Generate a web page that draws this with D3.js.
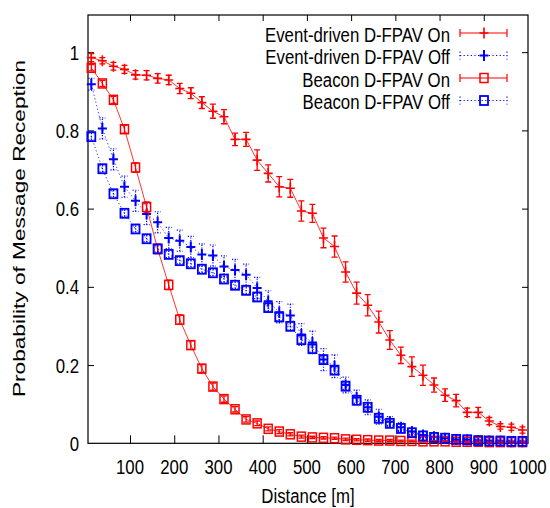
<!DOCTYPE html>
<html>
<head>
<meta charset="utf-8">
<script src="https://cdn.jsdelivr.net/npm/d3@7"></script>
<style>
html,body{margin:0;padding:0;background:#fff;}
svg{display:block;}
text{font-family:"Liberation Sans",Arial,Helvetica,sans-serif;fill:#000;}
</style>
</head>
<body>
<svg id="chart" width="550" height="508"></svg>
<script>
// ---- data ----
const distance = [12.5,37.5,62.5,87.5,112.5,137.5,162.5,187.5,212.5,237.5,262.5,287.5,312.5,337.5,362.5,387.5,412.5,437.5,462.5,487.5,512.5,537.5,562.5,587.5,612.5,637.5,662.5,687.5,712.5,737.5,762.5,787.5,812.5,837.5,862.5,887.5,912.5,937.5,962.5,987.5];

const eventOn = [0.986,0.978,0.964,0.956,0.942,0.941,0.933,0.929,0.907,0.895,0.871,0.849,0.835,0.777,0.777,0.724,0.690,0.656,0.652,0.594,0.588,0.525,0.503,0.438,0.384,0.353,0.310,0.264,0.225,0.196,0.174,0.149,0.123,0.109,0.079,0.079,0.057,0.043,0.041,0.034];
const eventOnErr = [0.010,0.008,0.010,0.010,0.011,0.012,0.012,0.012,0.013,0.014,0.015,0.018,0.018,0.016,0.018,0.026,0.022,0.026,0.023,0.026,0.023,0.025,0.027,0.026,0.028,0.027,0.028,0.024,0.021,0.025,0.026,0.018,0.016,0.016,0.011,0.013,0.009,0.007,0.008,0.008];

const eventOff = [0.918,0.805,0.726,0.656,0.620,0.586,0.565,0.525,0.518,0.502,0.483,0.480,0.452,0.443,0.431,0.397,0.363,0.335,0.327,0.278,0.258,0.214,0.197,0.149,0.117,0.092,0.068,0.055,0.041,0.030,0.021,0.017,0.013,0.010,0.009,0.007,0.006,0.005,0.004,0.004];
const eventOffErr = [0.015,0.027,0.027,0.027,0.027,0.027,0.027,0.027,0.027,0.027,0.027,0.027,0.027,0.027,0.027,0.027,0.027,0.027,0.029,0.028,0.029,0.028,0.029,0.020,0.019,0.019,0.019,0.013,0.011,0.009,0.008,0.007,0.006,0.005,0.004,0.004,0.003,0.003,0.003,0.003];

const beaconOn = [0.960,0.920,0.878,0.803,0.705,0.604,0.497,0.405,0.316,0.251,0.191,0.145,0.113,0.087,0.061,0.051,0.037,0.030,0.023,0.017,0.015,0.014,0.013,0.010,0.009,0.008,0.007,0.007,0.006,0.006,0.005,0.005,0.005,0.004,0.004,0.004,0.003,0.003,0.003,0.003];
const beaconOnErr = [0.008,0.008,0.009,0.010,0.012,0.013,0.012,0.012,0.012,0.011,0.010,0.009,0.008,0.007,0.007,0.006,0.005,0.005,0.004,0.004,0.003,0.003,0.003,0.003,0.003,0.003,0.003,0.003,0.002,0.002,0.002,0.002,0.002,0.002,0.002,0.002,0.002,0.002,0.002,0.002];

const beaconOff = [0.784,0.702,0.638,0.588,0.548,0.523,0.497,0.483,0.467,0.459,0.445,0.436,0.420,0.404,0.391,0.374,0.347,0.323,0.299,0.265,0.242,0.214,0.187,0.146,0.110,0.092,0.064,0.051,0.038,0.027,0.019,0.015,0.013,0.010,0.009,0.007,0.006,0.006,0.005,0.005];
const beaconOffErr = [0.008,0.008,0.008,0.008,0.008,0.008,0.008,0.008,0.008,0.008,0.008,0.008,0.008,0.008,0.009,0.009,0.009,0.009,0.009,0.009,0.009,0.009,0.009,0.008,0.008,0.007,0.006,0.005,0.005,0.004,0.004,0.003,0.003,0.003,0.003,0.003,0.003,0.003,0.003,0.003];

const seriesNames = ["Event-driven D-FPAV On","Event-driven D-FPAV Off","Beacon D-FPAV On","Beacon D-FPAV Off"];
const xTicks = [100,200,300,400,500,600,700,800,900,1000];
const yTicks = [0,0.2,0.4,0.6,0.8,1];
const yTickLabels = ["0","0.2","0.4","0.6","0.8","1"];

// ---- layout ----
const L = 88, R = 528, T = 15, B = 443.3;
const VS = 1.25; // vertical stretch of text
const FS = 16.8;
const svg = d3.select("#chart");
const x = d3.scaleLinear().domain([5,1000]).range([L,R]);
const y = d3.scaleLinear().domain([0,1.095]).range([B,T]);

function htext(tx, ty, str, anchor){
  svg.append("text")
    .attr("transform", `translate(${tx},${ty}) scale(1,${VS})`)
    .attr("text-anchor", anchor)
    .attr("font-size", FS)
    .text(str);
}

// ticks (inward, mirrored) using d3 axes
const gB = svg.append("g").attr("transform",`translate(0,${B})`)
  .call(d3.axisBottom(x).tickValues(xTicks.filter(v=>v<1000)).tickSizeInner(-8).tickSizeOuter(0).tickFormat(""));
const gT = svg.append("g").attr("transform",`translate(0,${T})`)
  .call(d3.axisTop(x).tickValues(xTicks.filter(v=>v<1000)).tickSizeInner(-6).tickSizeOuter(0).tickFormat(""));
const gL = svg.append("g").attr("transform",`translate(${L},0)`)
  .call(d3.axisLeft(y).tickValues(yTicks.filter(v=>v>0)).tickSizeInner(-6).tickSizeOuter(0).tickFormat(""));
const gR = svg.append("g").attr("transform",`translate(${R},0)`)
  .call(d3.axisRight(y).tickValues(yTicks.filter(v=>v>0)).tickSizeInner(-6).tickSizeOuter(0).tickFormat(""));
[gB,gT,gL,gR].forEach(g=>{ g.select(".domain").remove(); g.selectAll("line").attr("stroke","#000").attr("stroke-width",1); });

// frame
svg.append("rect").attr("x",L).attr("y",T).attr("width",R-L).attr("height",B-T)
  .attr("fill","none").attr("stroke","#000").attr("stroke-width",1.2);

// tick labels
xTicks.forEach(v=>htext(x(v), 474, String(v), "middle"));
yTicks.forEach((v,i)=>htext(79, y(v)+7.5, yTickLabels[i], "end"));

// axis titles
htext((L+R)/2, 503, "Distance [m]", "middle");
svg.append("text")
  .attr("transform", `translate(25,228.5) rotate(-90)`)
  .attr("text-anchor","middle")
  .attr("font-size", 17)
  .attr("textLength", 337)
  .attr("lengthAdjust","spacingAndGlyphs")
  .text("Probability of Message Reception");

// series
const series = [
  {vals:eventOn, err:eventOnErr, color:"#ff0000", dash:null, marker:"plus", lw:1.3, mw:1.6},
  {vals:eventOff, err:eventOffErr, color:"#0000ff", dash:"1.2,2.4", marker:"plus", lw:1.2, mw:2},
  {vals:beaconOn, err:beaconOnErr, color:"#ff0000", dash:null, marker:"square", lw:1.3, mw:1.5},
  {vals:beaconOff, err:beaconOffErr, color:"#0000ff", dash:"1.2,2.4", marker:"square", lw:1.2, mw:1.8}
];

function drawMarker(g, type, cx, cy, color, w){
  if(type==="plus"){
    g.append("path").attr("d",`M${cx-4.5},${cy}H${cx+4.5}M${cx},${cy-5.5}V${cy+5.5}`)
      .attr("stroke",color).attr("stroke-width",w).attr("fill","none");
  } else {
    g.append("rect").attr("x",cx-4).attr("y",cy-4.5).attr("width",8).attr("height",9)
      .attr("stroke",color).attr("stroke-width",w).attr("fill","none");
  }
}

const line = d3.line().x(d=>x(d[0])).y(d=>y(d[1]));
series.forEach(s=>{
  const g = svg.append("g");
  const pts = distance.map((d,i)=>[d, s.vals[i], s.err[i]]);
  const p = g.append("path").datum(pts).attr("d",line)
    .attr("fill","none").attr("stroke",s.color).attr("stroke-width",1).attr("stroke-opacity",0.8);
  if(s.dash) p.attr("stroke-dasharray",s.dash);
  pts.forEach(d=>{
    const cx = x(d[0]), y1 = y(d[1]-d[2]), y2 = y(d[1]+d[2]);
    const e = g.append("path").attr("d",`M${cx},${y1}V${y2}M${cx-3},${y1}H${cx+3}M${cx-3},${y2}H${cx+3}`)
      .attr("stroke",s.color).attr("stroke-width",s.lw).attr("fill","none");
    if(s.dash) e.attr("stroke-dasharray","1.2,1.5");
  });
  pts.forEach(d=>drawMarker(g, s.marker, x(d[0]), y(d[1]), s.color, s.mw));
});

// legend
const legRows = [34, 56.5, 79, 101.5];
series.forEach((s,i)=>{
  const cy = legRows[i];
  htext(450, cy+7.5, seriesNames[i], "end");
  const g = svg.append("g");
  const ln = g.append("path").attr("d",`M460,${cy-1}H507M460,${cy-5}V${cy+3}M507,${cy-5}V${cy+3}`)
    .attr("stroke",s.color).attr("stroke-width",1.2).attr("fill","none");
  if(s.dash) ln.attr("stroke-dasharray",s.dash);
  drawMarker(g, s.marker, 484, cy-1, s.color, s.mw);
});
</script>
</body>
</html>
